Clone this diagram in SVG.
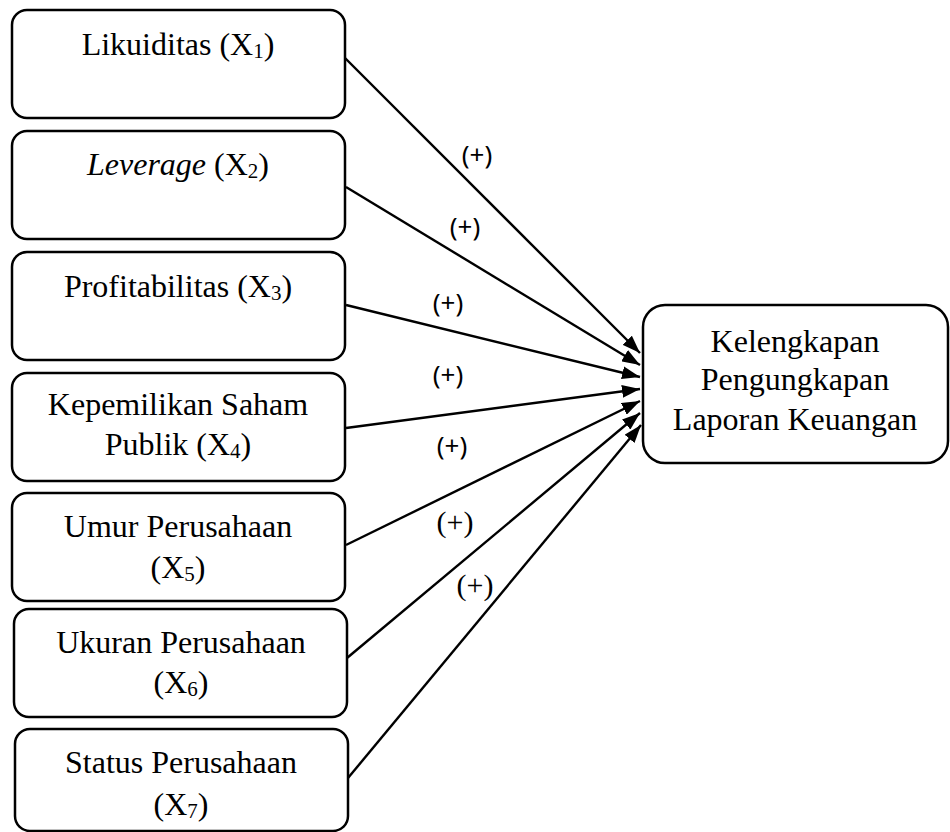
<svg xmlns="http://www.w3.org/2000/svg" width="950" height="832" viewBox="0 0 950 832">
<style>
.box{fill:#fff;stroke:#000;stroke-width:2.5}
.t{font-family:"Liberation Serif","Times New Roman",serif;font-size:32px;fill:#000;text-anchor:middle}
.sub{font-size:21px}
.edge{stroke:#000;stroke-width:2.4;fill:none}
.ls{font-family:"Noto Sans","Open Sans",sans-serif;font-size:26px;fill:#000;text-anchor:middle}
.lt{font-family:"Liberation Serif","Times New Roman",serif;font-size:30px;fill:#000;text-anchor:middle}
</style>
<defs>
<marker id="ah" viewBox="0 0 18 13" refX="18" refY="6.5" markerWidth="18" markerHeight="13" markerUnits="userSpaceOnUse" orient="auto">
<path d="M0,0 L18,6.5 L0,13 Z" fill="#000"/>
</marker>
</defs>
<g id="connectors">
<line class="edge" x1="345" y1="58" x2="640" y2="353" marker-end="url(#ah)"/>
<line class="edge" x1="346" y1="187" x2="640" y2="365" marker-end="url(#ah)"/>
<line class="edge" x1="346" y1="305" x2="640" y2="377" marker-end="url(#ah)"/>
<line class="edge" x1="346" y1="428" x2="640" y2="389" marker-end="url(#ah)"/>
<line class="edge" x1="346" y1="545" x2="640" y2="401" marker-end="url(#ah)"/>
<line class="edge" x1="347" y1="658" x2="640" y2="413" marker-end="url(#ah)"/>
<line class="edge" x1="348" y1="778" x2="641" y2="425" marker-end="url(#ah)"/>
<text class="ls" x="477" y="164">(+)</text>
<text class="ls" x="465" y="236">(+)</text>
<text class="ls" x="448" y="312">(+)</text>
<text class="ls" x="448" y="384">(+)</text>
<text class="ls" x="452" y="455">(+)</text>
<text class="lt" x="455" y="532">(+)</text>
<text class="lt" x="475" y="595">(+)</text>
</g>
<g id="x1">
<rect class="box" x="12" y="10" width="333" height="108" rx="15"/>
<text class="t" x="178" y="55">Likuiditas (X<tspan class="sub" dy="3">1</tspan><tspan dy="-3">)</tspan></text>
</g>
<g id="x2">
<rect class="box" x="12" y="131" width="333" height="108" rx="15"/>
<text class="t" x="178" y="175"><tspan font-style="italic">Leverage</tspan> (X<tspan class="sub" dy="3">2</tspan><tspan dy="-3">)</tspan></text>
</g>
<g id="x3">
<rect class="box" x="12" y="252" width="333" height="108" rx="15"/>
<text class="t" x="178" y="297">Profitabilitas (X<tspan class="sub" dy="3">3</tspan><tspan dy="-3">)</tspan></text>
</g>
<g id="x4">
<rect class="box" x="12" y="373" width="333" height="108" rx="15"/>
<text class="t" x="178" y="415">Kepemilikan Saham</text>
<text class="t" x="178" y="455">Publik (X<tspan class="sub" dy="3">4</tspan><tspan dy="-3">)</tspan></text>
</g>
<g id="x5">
<rect class="box" x="12" y="493" width="333" height="108" rx="15"/>
<text class="t" x="178" y="537">Umur Perusahaan</text>
<text class="t" x="178" y="578">(X<tspan class="sub" dy="3">5</tspan><tspan dy="-3">)</tspan></text>
</g>
<g id="x6">
<rect class="box" x="14" y="609" width="333" height="108" rx="15"/>
<text class="t" x="181" y="653">Ukuran Perusahaan</text>
<text class="t" x="181" y="693">(X<tspan class="sub" dy="3">6</tspan><tspan dy="-3">)</tspan></text>
</g>
<g id="x7">
<rect class="box" x="15" y="729" width="333" height="102" rx="15"/>
<text class="t" x="181" y="773">Status Perusahaan</text>
<text class="t" x="181" y="815">(X<tspan class="sub" dy="3">7</tspan><tspan dy="-3">)</tspan></text>
</g>
<g id="y">
<rect class="box" x="643" y="305" width="305" height="158" rx="22"/>
<text class="t" x="795" y="352">Kelengkapan</text>
<text class="t" x="795" y="390">Pengungkapan</text>
<text class="t" x="795" y="430">Laporan Keuangan</text>
</g>
</svg>
